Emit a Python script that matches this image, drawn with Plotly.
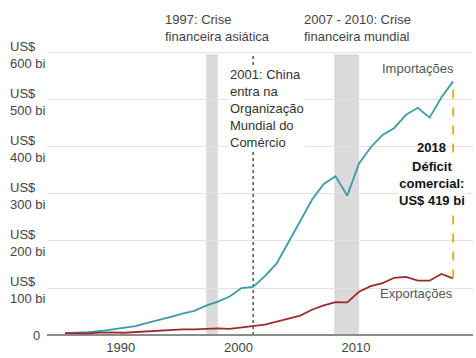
import plotly.graph_objects as go

years = list(range(1985, 2019))
imports = [3.9, 4.8, 6.3, 8.5, 12.0, 15.2, 19.0, 25.7, 31.5, 38.8, 45.5, 51.5, 62.6, 71.2,
           81.8, 100.0, 102.3, 125.2, 152.4, 196.7, 243.5, 287.8, 321.4, 337.8, 296.4,
           364.9, 399.4, 425.6, 440.4, 468.5, 483.2, 462.4, 505.2, 539.5]
exports = [3.9, 3.1, 3.5, 5.0, 5.8, 4.8, 6.3, 7.4, 8.8, 9.3, 11.8, 12.0, 12.9, 14.2,
           13.1, 16.2, 19.2, 22.1, 28.4, 34.4, 41.2, 53.7, 62.9, 69.7, 69.5,
           91.9, 104.1, 110.5, 121.7, 123.7, 115.9, 115.6, 129.9, 120.3]
ytick_vals = [100, 200, 300, 400, 500, 600]
ytick_text = ["US$<br>100 bi", "US$<br>200 bi", "US$<br>300 bi", "US$<br>400 bi",
              "US$<br>500 bi", "US$<br>600 bi"]
xtick_vals = [1990, 2000, 2010]
crises = [(1997, 1998), (2007.9, 2010)]
wto_year = 2001

FONT = "Liberation Sans, Arial, sans-serif"
fig = go.Figure()

fig.add_trace(go.Scatter(x=years, y=imports, mode="lines",
                         line=dict(color="#3a9ca6", width=1.8), hoverinfo="skip"))
fig.add_trace(go.Scatter(x=years, y=exports, mode="lines",
                         line=dict(color="#9e2a30", width=1.8), hoverinfo="skip"))
fig.add_trace(go.Scatter(x=[years[-1], years[-1]], y=[exports[-1], imports[-1]], mode="lines",
                         line=dict(color="#e3b22b", width=2, dash="dash"), hoverinfo="skip"))

shapes = []
for a, b in crises:
    shapes.append(dict(type="rect", xref="x", yref="y", x0=a, x1=b, y0=0, y1=597,
                       fillcolor="#dadada", line=dict(width=0), layer="below"))
shapes.append(dict(type="line", xref="x", yref="y", x0=wto_year, x1=wto_year, y0=0, y1=597,
                   line=dict(color="#555555", width=1.5, dash="dot"), layer="below"))

ann = []
for v, t in zip(ytick_vals, ytick_text):
    ann.append(dict(xref="paper", yref="y", x=0, y=v, xshift=-39, yshift=-2, text=t,
                    showarrow=False, xanchor="left", yanchor="middle", align="left",
                    font=dict(size=13, color="#444444", family=FONT)))
ann.append(dict(xref="paper", yref="y", x=0, y=0, xshift=-5, text="0", showarrow=False,
                xanchor="right", yanchor="middle", font=dict(size=13, color="#444444", family=FONT)))
ann.append(dict(xref="x", yref="paper", x=crises[0][0], y=1, yshift=-6, xshift=-43,
                text="1997: Crise<br>financeira asiática", showarrow=False, xanchor="left",
                yanchor="bottom", align="left", font=dict(size=13, color="#444444", family=FONT)))
ann.append(dict(xref="x", yref="paper", x=crises[1][0], y=1, yshift=-6, xshift=-32,
                text="2007 - 2010: Crise<br>financeira mundial", showarrow=False, xanchor="left",
                yanchor="bottom", align="left", font=dict(size=13, color="#444444", family=FONT)))
ann.append(dict(xref="x", yref="y", x=wto_year, y=590, xshift=-25, yshift=-7,
                text="2001: China<br>entra na<br>Organização<br>Mundial do<br>Comércio",
                showarrow=False, xanchor="left", yanchor="top", align="left",
                bgcolor="white", borderpad=1,
                font=dict(size=13, color="#333333", family=FONT)))
ann.append(dict(xref="x", yref="y", x=years[-1], y=imports[-1], xshift=3, yshift=3,
                text="Importações", showarrow=False, xanchor="right", yanchor="bottom",
                font=dict(size=13, color="#555555", family=FONT)))
ann.append(dict(xref="x", yref="y", x=years[-1], y=exports[-1], xshift=2, yshift=-6,
                text="Exportações", showarrow=False, xanchor="right", yanchor="top",
                font=dict(size=13, color="#555555", family=FONT)))
ann.append(dict(xref="x", yref="y", x=years[-1], y=398, xshift=-22,
                text="<b>2018</b>", showarrow=False, xanchor="center", yanchor="middle",
                font=dict(size=13, color="#111111", family=FONT)))
ann.append(dict(xref="x", yref="y", x=years[-1], y=323, xshift=-21,
                text="<b>Déficit<br>comercial:<br>US$ 419 bi</b>", showarrow=False,
                xanchor="center", yanchor="middle", bgcolor="white", borderpad=1,
                font=dict(size=13, color="#111111", family=FONT)))

fig.update_layout(
    width=476, height=358,
    margin=dict(l=47, r=3, t=40, b=18),
    paper_bgcolor="white", plot_bgcolor="white",
    showlegend=False,
    shapes=shapes, annotations=ann,
    xaxis=dict(range=[1983.47, 2019.69], tickvals=xtick_vals, showgrid=False,
               zeroline=False, showline=False, ticks="", ticklabelshift=-3,
               tickfont=dict(size=13, color="#444444", family=FONT), fixedrange=True),
    yaxis=dict(range=[-6.34, 627.5], tickvals=ytick_vals, showticklabels=False,
               showgrid=True, gridcolor="#e2e2e2", gridwidth=1,
               zeroline=True, zerolinecolor="#8c8c8c", zerolinewidth=2,
               showline=False, ticks="", fixedrange=True),
)

fig.write_html("out.html")
